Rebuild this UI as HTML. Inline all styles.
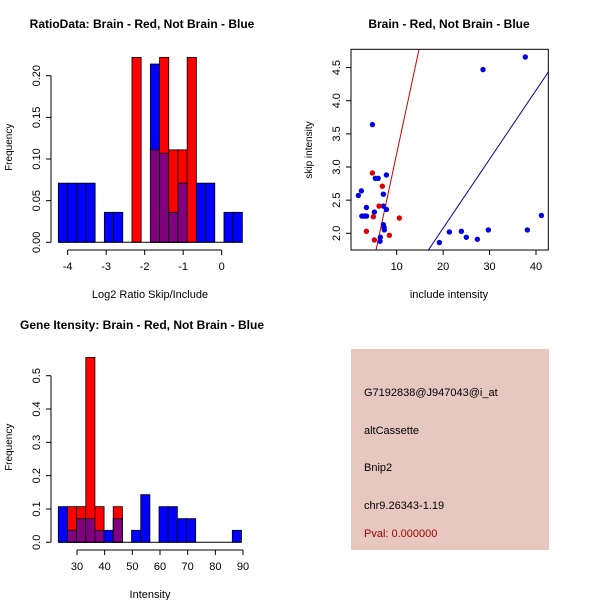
<!DOCTYPE html>
<html><head><meta charset="utf-8"><style>
body{margin:0;background:#fff}
svg{display:block;font-family:"Liberation Sans",sans-serif}
</style></head><body>
<svg id="c" width="600" height="600" xmlns="http://www.w3.org/2000/svg">
<rect width="600" height="600" fill="#fff"/>
<text x="142" y="28" font-size="12" font-weight="bold" text-anchor="middle">RatioData: Brain - Red, Not Brain - Blue</text>
<text x="449" y="28" font-size="12" font-weight="bold" text-anchor="middle">Brain - Red, Not Brain - Blue</text>
<text x="142" y="329" font-size="12" font-weight="bold" text-anchor="middle">Gene Itensity: Brain - Red, Not Brain - Blue</text>
<g id="p1"></g>
<g id="p2"></g>
<g id="p3"></g>
<g>
<rect x="351" y="349" width="198" height="201" fill="#e6c8c0"/>
<text x="364" y="396" font-size="11">G7192838@J947043@i_at</text>
<text x="364" y="434" font-size="11">altCassette</text>
<text x="364" y="471" font-size="11">Bnip2</text>
<text x="364" y="509" font-size="11">chr9.26343-1.19</text>
<text x="364" y="537" font-size="11" fill="#a00000">Pval: 0.000000</text>
</g>
</svg>
<script>
// Ratio histogram data
const ratioStart = -4.242, ratioWidth = 0.239;
const ratioBlue = [0.071,0.071,0.071,0.071,0,0.036,0.036,0,0,0,0.214,0.107,0.036,0.071,0,0.071,0.071,0,0.036,0.036];
const ratioRed  = [0,0,0,0,0,0,0,0,0.222,0,0.111,0.222,0.111,0.111,0.222,0,0,0,0,0];
const ratioXTicks = [-4,-3,-2,-1,0];
const ratioYTicks = [0,0.05,0.10,0.15,0.20];
const ratioYLabels = ["0.00","0.05","0.10","0.15","0.20"];
// Intensity histogram data
const intStart = 23.24, intWidth = 3.31;
const intBlue = [0.107,0.036,0.071,0.071,0.036,0.036,0.071,0,0.036,0.143,0,0.107,0.107,0.071,0.071,0,0,0,0,0.036];
const intRed  = [0,0.107,0.107,0.555,0.107,0,0.107,0,0,0,0,0,0,0,0,0,0,0,0,0];
const intXTicks = [30,40,50,60,70,80,90];
const intYTicks = [0,0.1,0.2,0.3,0.4,0.5];
const intYLabels = ["0.0","0.1","0.2","0.3","0.4","0.5"];
// Scatter data
const blueX = [1.74,2.39,4.76,3.47,2.5,3.0,3.5,5.19,5.4,6.0,7.78,7.13,7.13,7.78,7.13,7.27,7.34,6.48,6.41,19.19,21.34,23.93,25.0,27.37,29.74,28.59,37.7,38.14,41.16];
const blueY = [2.57,2.64,3.64,2.39,2.26,2.26,2.26,2.32,2.83,2.83,2.88,2.59,2.41,2.36,2.13,2.09,2.05,1.94,1.88,1.86,2.02,2.03,1.94,1.91,2.05,4.47,4.66,2.05,2.27];
const redX = [4.76,6.91,6.2,4.97,3.47,5.19,8.42,10.57];
const redY = [2.91,2.71,2.41,2.25,2.03,1.90,1.97,2.23];
const redFit = [-0.067,0.327];
const blueFit = [-0.002,0.104];
const scXTicks = [10,20,30,40];
const scYTicks = [2.0,2.5,3.0,3.5,4.0,4.5];
const scYLabels = ["2.0","2.5","3.0","3.5","4.0","4.5"];

const NS="http://www.w3.org/2000/svg";
function mk(parent,tag,attrs){const e=document.createElementNS(NS,tag);for(const k in attrs)e.setAttribute(k,attrs[k]);parent.appendChild(e);return e;}
function txt(parent,x,y,s,rot){const t=mk(parent,'text',{x:x,y:y,'font-size':11,'text-anchor':'middle'});if(rot)t.setAttribute('transform','rotate(-90 '+x+' '+y+')');t.textContent=s;return t;}

function hist(g,start,w,blue,red,sx,sy,xT,yT,yL,axisY,axisX,xlab,labY){
  for(let i=0;i<blue.length;i++){
    const x0=sx(start+i*w),x1=sx(start+(i+1)*w);
    const b=blue[i],r=red[i];
    if(b>0){const e=mk(g,'rect',{x:x0,y:sy(b),width:x1-x0,height:sy(0)-sy(b),fill:'#0000ff',stroke:'#000','stroke-width':0.8});
      
      }
    if(r>0){const e=mk(g,'rect',{x:x0,y:sy(r),width:x1-x0,height:sy(0)-sy(r),fill:'#ff0000',stroke:'#000','stroke-width':0.8});
      
      }
    const m=Math.min(b,r);
    if(m>0){const e=mk(g,'rect',{x:x0,y:sy(m),width:x1-x0,height:sy(0)-sy(m),fill:'#800080',stroke:'#000','stroke-width':0.8});
      
      }
  }
  const x0=sx(start),x1=sx(start+blue.length*w);
  mk(g,'line',{x1:x0,x2:x1,y1:sy(0),y2:sy(0),stroke:'#000'});
  mk(g,'line',{x1:sx(xT[0]),x2:sx(xT[xT.length-1]),y1:axisY,y2:axisY,stroke:'#000'});
  xT.forEach(v=>{mk(g,'line',{x1:sx(v),x2:sx(v),y1:axisY,y2:axisY+5,stroke:'#000'});
    const t=txt(g,sx(v),axisY+20,String(v));});
  mk(g,'line',{x1:axisX,x2:axisX,y1:sy(yT[0]),y2:sy(yT[yT.length-1]),stroke:'#000'});
  yT.forEach((v,i)=>{mk(g,'line',{x1:axisX,x2:axisX-5,y1:sy(v),y2:sy(v),stroke:'#000'});
    const t=txt(g,axisX-11,sy(v),yL[i],true);});
  const xl=txt(g,150,labY,xlab);
  const yl=txt(g,12,sy(0)-95,'Frequency',true);yl.setAttribute('font-size',10);
}

const sx1=v=>67.67+(v+4)*38.5, sy1=v=>242.3-v*(242.3-75.7)/0.2;
hist(document.getElementById('p1'),ratioStart,ratioWidth,ratioBlue,ratioRed,sx1,sy1,ratioXTicks,ratioYTicks,ratioYLabels,250,51,'Log2 Ratio Skip/Include',298);
const sx3=v=>77+(v-30)*(166/60), sy3=v=>542.3-v*(542.3-375.7)/0.5;
hist(document.getElementById('p3'),intStart,intWidth,intBlue,intRed,sx3,sy3,intXTicks,intYTicks,intYLabels,550,51,'Intensity',598);

(function(){
  const g=document.getElementById('p2');
  const L=351,R=548.3,T=49.3,B=250;
  const sx=v=>396.7+(v-10)*(139.3/30), sy=v=>233.3-(v-2)*(165.7/2.5);
  const xmin=0.16,xmax=42.65;
  const cp=mk(g,'clipPath',{id:'clip'});mk(cp,'rect',{x:L,y:T,width:R-L,height:B-T});
  function fit(c,col,name){const pts=[];
    for(const x of [xmin,xmax]){pts.push([x,c[0]+c[1]*x]);}
    const e=mk(g,'line',{x1:sx(pts[0][0]),y1:sy(pts[0][1]),x2:sx(pts[1][0]),y2:sy(pts[1][1]),stroke:col,'stroke-width':1,'clip-path':'url(#clip)'});
    
    }
  fit(redFit,'#d00000','red-fit-line');
  fit(blueFit,'#0000a0','blue-fit-line');
  blueX.forEach((x,i)=>{const c=mk(g,'circle',{cx:sx(x),cy:sy(blueY[i]),r:2.7,fill:'#0000e0'});
    
    });
  redX.forEach((x,i)=>{const c=mk(g,'circle',{cx:sx(x),cy:sy(redY[i]),r:2.7,fill:'#e00000'});
    
    });
  mk(g,'rect',{x:L,y:T,width:R-L,height:B-T,fill:'none',stroke:'#000'});
  scXTicks.forEach(v=>{mk(g,'line',{x1:sx(v),x2:sx(v),y1:B,y2:B+5,stroke:'#000'});
    const t=txt(g,sx(v),B+20,String(v));});
  scYTicks.forEach((v,i)=>{mk(g,'line',{x1:L,x2:L-5,y1:sy(v),y2:sy(v),stroke:'#000'});
    const t=txt(g,L-11,sy(v),scYLabels[i],true);});
  const xl=txt(g,449,298,'include intensity');
  const yl=txt(g,312,150,'skip intensity',true);yl.setAttribute('font-size',10);
})();
</script>
</body></html>
